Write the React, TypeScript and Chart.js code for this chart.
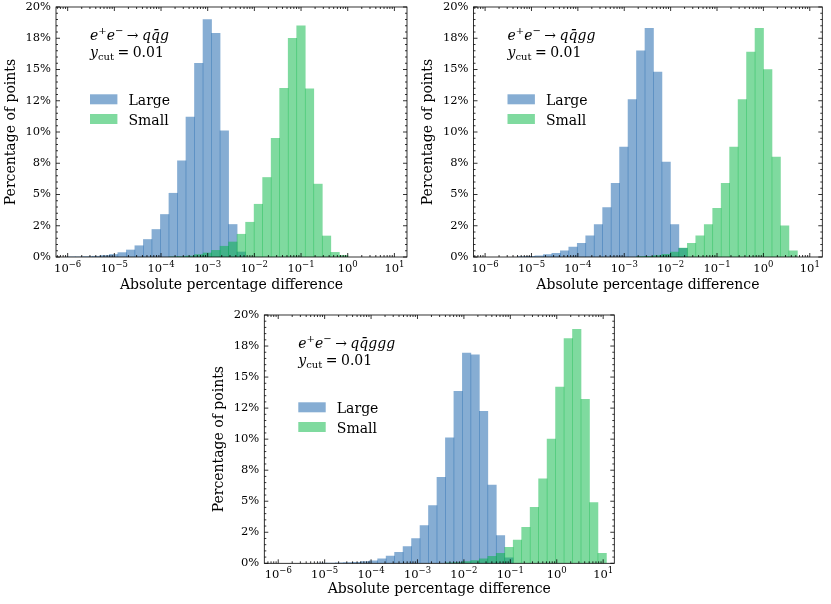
import React, { useEffect, useRef } from 'react';
import { Chart, registerables, ChartConfiguration, Plugin } from 'chart.js';
Chart.register(...registerables);

// Histogram bins are evenly spaced in log10(difference); width in decades
const binWidth = 0.1825;

// Axis ticks (x ticks are powers of ten, labelled 10^exponent)
const xTickPowers = [-6, -5, -4, -3, -2, -1, 0, 1];
const xTickExponents = ['−6', '−5', '−4', '−3', '−2', '−1', '0', '1'];
const yTickValues = [0, 2.5, 5, 7.5, 10, 12.5, 15, 17.5, 20];
const yTickLabels = ['0%', '2%', '5%', '8%', '10%', '12%', '15%', '18%', '20%'];

const seriesNames = ['Large', 'Small'];
const yCutValue = '0.01';

// e+e- -> q qbar g
const qqgBinStart = -6.02;
const qqgLargeFirstBin = 0;
const qqgLarge = [0.01, 0.01, 0.03, 0.06, 0.12, 0.2, 0.35, 0.56, 0.9, 1.4, 2.2, 3.4, 5.1, 7.7, 11.2, 15.5, 19.0, 17.9, 10.1, 2.6, 0.4];
const qqgSmallFirstBin = 12;
const qqgSmall = [0.01, 0.03, 0.08, 0.19, 0.32, 0.53, 0.86, 1.2, 1.82, 2.78, 4.22, 6.36, 9.5, 13.5, 17.5, 18.5, 13.45, 5.83, 1.68, 0.37, 0.13];

// e+e- -> q qbar g g
const qqggBinStart = -6.02;
const qqggLargeFirstBin = 4;
const qqggLarge = [0.03, 0.05, 0.1, 0.19, 0.3, 0.5, 0.8, 1.1, 1.7, 2.6, 3.96, 5.9, 8.8, 12.6, 16.5, 18.3, 14.8, 7.6, 2.6, 0.7];
const qqggSmallFirstBin = 18;
const qqggSmall = [0.03, 0.06, 0.12, 0.22, 0.4, 0.72, 1.1, 1.7, 2.6, 3.9, 5.9, 8.8, 12.6, 16.4, 18.3, 15.0, 8.0, 2.5, 0.5];

// e+e- -> q qbar g g g
const qqgggBinStart = -5.865;
const qqgggLargeFirstBin = 4;
const qqgggLarge = [0.01, 0.02, 0.03, 0.05, 0.08, 0.13, 0.2, 0.35, 0.59, 0.89, 1.34, 2.0, 3.03, 4.64, 6.93, 10.1, 13.85, 16.94, 16.8, 12.24, 6.31, 2.23, 0.45];
const qqgggSmallFirstBin = 19;
const qqgggSmall = [0.03, 0.06, 0.13, 0.21, 0.35, 0.56, 0.8, 1.29, 1.88, 2.9, 4.5, 6.8, 10.0, 14.2, 18.1, 18.85, 13.2, 4.9, 0.8];

const FONT = '"DejaVu Serif", serif';
const largeFill = 'rgba(13, 91, 167, 0.5)';
const smallFill = 'rgba(0, 181, 63, 0.5)';
const Y_AXIS_WIDTH = 56;

interface PanelSpec {
  finalState: string;
  binStart: number;
  largeFirstBin: number;
  large: number[];
  smallFirstBin: number;
  small: number[];
  xRange: [number, number]; // log10 limits
  box: { left: number; top: number; width: number; height: number };
  area: { left: number; top: number; right: number; bottom: number };
  xTitleGap: number;
}

const panels: PanelSpec[] = [
  {
    finalState: 'qq\u0304g',
    binStart: qqgBinStart,
    largeFirstBin: qqgLargeFirstBin, large: qqgLarge,
    smallFirstBin: qqgSmallFirstBin, small: qqgSmall,
    xRange: [-6.25, 1.27],
    box: { left: 0, top: 0, width: 415, height: 300 },
    area: { left: 56, top: 7, right: 407, bottom: 257 },
    xTitleGap: 28,
  },
  {
    finalState: 'qq\u0304gg',
    binStart: qqggBinStart,
    largeFirstBin: qqggLargeFirstBin, large: qqggLarge,
    smallFirstBin: qqggSmallFirstBin, small: qqggSmall,
    xRange: [-6.25, 1.27],
    box: { left: 415, top: 0, width: 416, height: 300 },
    area: { left: 473.5, top: 7, right: 822.3, bottom: 257 },
    xTitleGap: 28,
  },
  {
    finalState: 'qq\u0304ggg',
    binStart: qqgggBinStart,
    largeFirstBin: qqgggLargeFirstBin, large: qqgggLarge,
    smallFirstBin: qqgggSmallFirstBin, small: qqgggSmall,
    xRange: [-6.3, 1.24],
    box: { left: 205, top: 300, width: 420, height: 304 },
    area: { left: 264.3, top: 315, right: 614.3, bottom: 563.3 },
    xTitleGap: 26,
  },
];

// frame, inward ticks on all sides, x tick labels, process label and legend
const makeDecor = (spec: PanelSpec): Plugin<'bar'> => ({
  id: 'panelDecor',
  afterDraw(chart) {
    const { ctx, chartArea: a } = chart;
    const xs = chart.scales.x;
    const ys = chart.scales.y;
    ctx.save();
    ctx.strokeStyle = '#000';
    ctx.lineWidth = 0.8;
    ctx.strokeRect(a.left, a.top, a.right - a.left, a.bottom - a.top);

    ctx.beginPath();
    for (let d = Math.floor(spec.xRange[0]); d <= Math.ceil(spec.xRange[1]); d++) {
      for (let m = 1; m < 10; m++) {
        const lv = d + Math.log10(m);
        if (lv <= spec.xRange[0] || lv >= spec.xRange[1]) continue;
        const px = xs.getPixelForValue(10 ** lv);
        const len = m === 1 ? 4 : 2;
        ctx.moveTo(px, a.bottom); ctx.lineTo(px, a.bottom - len);
        ctx.moveTo(px, a.top); ctx.lineTo(px, a.top + len);
      }
    }
    for (let v = 0; v <= 20; v += 0.5) {
      const py = ys.getPixelForValue(v);
      const len = yTickValues.includes(v) ? 4 : 2;
      ctx.moveTo(a.left, py); ctx.lineTo(a.left + len, py);
      ctx.moveTo(a.right, py); ctx.lineTo(a.right - len, py);
    }
    ctx.stroke();

    ctx.fillStyle = '#000';
    ctx.textBaseline = 'alphabetic';
    ctx.textAlign = 'left';

    // x tick labels as 10 with a raised exponent
    const baseFont = `11.5px ${FONT}`;
    const expFont = `8.5px ${FONT}`;
    xTickPowers.forEach((p, i) => {
      const px = xs.getPixelForValue(10 ** p);
      ctx.font = baseFont;
      const wBase = ctx.measureText('10').width;
      ctx.font = expFont;
      const wExp = ctx.measureText(xTickExponents[i]).width;
      const x0 = px - (wBase + wExp) / 2;
      ctx.font = baseFont;
      ctx.fillText('10', x0, a.bottom + 14.5);
      ctx.font = expFont;
      ctx.fillText(xTickExponents[i], x0 + wBase, a.bottom + 10);
    });

    // process label, drawn piece by piece like mathtext
    const it = `italic 14px ${FONT}`;
    const rm = `14px ${FONT}`;
    const small = `10px ${FONT}`;
    let cx = a.left + 34;
    let by = a.top + 33;
    const put = (text: string, font: string, dy = 0, after = 0) => {
      ctx.font = font;
      ctx.fillText(text, cx, by + dy);
      cx += ctx.measureText(text).width + after;
    };
    put('e', it);
    put('+', small, -6);
    put('e', it);
    put('−', small, -6, 3.5);
    put('→', rm, 0, 3.5);
    put(spec.finalState, it);

    cx = a.left + 34;
    by = a.top + 50;
    put('y', it);
    put('cut', small, 3, 3.5);
    put('=', rm, 0, 3.5);
    put(yCutValue, rm);

    // legend
    const fills = [largeFill, smallFill];
    seriesNames.forEach((name, i) => {
      const top = a.top + 87.3 + i * 19.7;
      ctx.fillStyle = fills[i];
      ctx.fillRect(a.left + 34, top, 27.4, 10);
      ctx.fillStyle = '#000';
      ctx.font = rm;
      ctx.fillText(name, a.left + 72.5, top + 10.5);
    });
    ctx.restore();
  },
});

const HistPanel: React.FC<{ spec: PanelSpec }> = ({ spec }) => {
  const canvasRef = useRef<HTMLCanvasElement>(null);

  useEffect(() => {
    const canvas = canvasRef.current;
    if (!canvas) return;
    const ctx = canvas.getContext('2d');
    if (!ctx) return;

    const { box, area } = spec;
    const padLeft = area.left - box.left - Y_AXIS_WIDTH;
    const padRight = box.left + box.width - area.right;
    const padTop = area.top - box.top;
    const xAxisHeight = box.top + box.height - area.bottom;
    const toPoints = (vals: number[], first: number) =>
      vals.map((y, i) => ({ x: 10 ** (spec.binStart + (first + i + 0.5) * binWidth), y }));

    const tickFont = { family: FONT, size: 11.5 };
    const titleFont = { family: FONT, size: 14 };

    const config: ChartConfiguration<'bar'> = {
      type: 'bar',
      data: {
        datasets: [
          {
            label: seriesNames[0],
            data: toPoints(spec.large, spec.largeFirstBin) as any,
            backgroundColor: largeFill,
            borderWidth: 0,
            order: 1,
            grouped: false,
            barPercentage: 1,
            categoryPercentage: 1,
          },
          {
            label: seriesNames[1],
            data: toPoints(spec.small, spec.smallFirstBin) as any,
            backgroundColor: smallFill,
            borderWidth: 0,
            order: 0,
            grouped: false,
            barPercentage: 1,
            categoryPercentage: 1,
          },
        ],
      },
      options: {
        animation: false,
        responsive: false,
        maintainAspectRatio: false,
        events: [],
        layout: {
          autoPadding: false,
          padding: { left: padLeft, right: padRight, top: padTop, bottom: 0 },
        },
        plugins: {
          legend: { display: false },
          tooltip: { enabled: false },
        },
        scales: {
          x: {
            type: 'logarithmic',
            position: 'bottom',
            min: 10 ** spec.xRange[0],
            max: 10 ** spec.xRange[1],
            bounds: 'data',
            grid: { display: false, drawTicks: false },
            border: { display: false },
            afterBuildTicks: (scale) => {
              scale.ticks = xTickPowers.map((p) => ({ value: 10 ** p }));
            },
            afterFit: (scale) => {
              scale.height = xAxisHeight;
              scale.paddingLeft = 0;
              scale.paddingRight = 0;
            },
            ticks: { display: false, autoSkip: false, maxRotation: 0 },
            title: {
              display: true,
              text: 'Absolute percentage difference',
              color: '#000',
              font: titleFont,
              padding: { top: 0, bottom: xAxisHeight - spec.xTitleGap - 8.4 },
            },
          },
          y: {
            type: 'linear',
            min: 0,
            max: 20,
            grid: { display: false, drawTicks: false },
            border: { display: false },
            afterBuildTicks: (scale) => {
              scale.ticks = yTickValues.map((v) => ({ value: v }));
            },
            afterFit: (scale) => {
              scale.width = Y_AXIS_WIDTH;
              scale.paddingTop = 0;
              scale.paddingBottom = 0;
            },
            ticks: {
              autoSkip: false,
              padding: 5,
              color: '#000',
              font: tickFont,
              callback: (_v, i) => yTickLabels[i] ?? '',
            },
            title: {
              display: true,
              text: 'Percentage of points',
              color: '#000',
              font: titleFont,
              padding: { top: 2.6, bottom: 0 },
            },
          },
        },
      },
      plugins: [makeDecor(spec)],
    };

    const chart = new Chart(ctx, config);
    return () => {
      chart.destroy();
    };
  }, [spec]);

  return (
    <canvas
      ref={canvasRef}
      width={spec.box.width}
      height={spec.box.height}
      style={{ position: 'absolute', left: spec.box.left, top: spec.box.top }}
    />
  );
};

const App: React.FC = () => (
  <div style={{ position: 'absolute', left: 0, top: 0, width: 831, height: 604, background: '#fff' }}>
    {panels.map((p, i) => (
      <HistPanel key={i} spec={p} />
    ))}
  </div>
);

export default App;
